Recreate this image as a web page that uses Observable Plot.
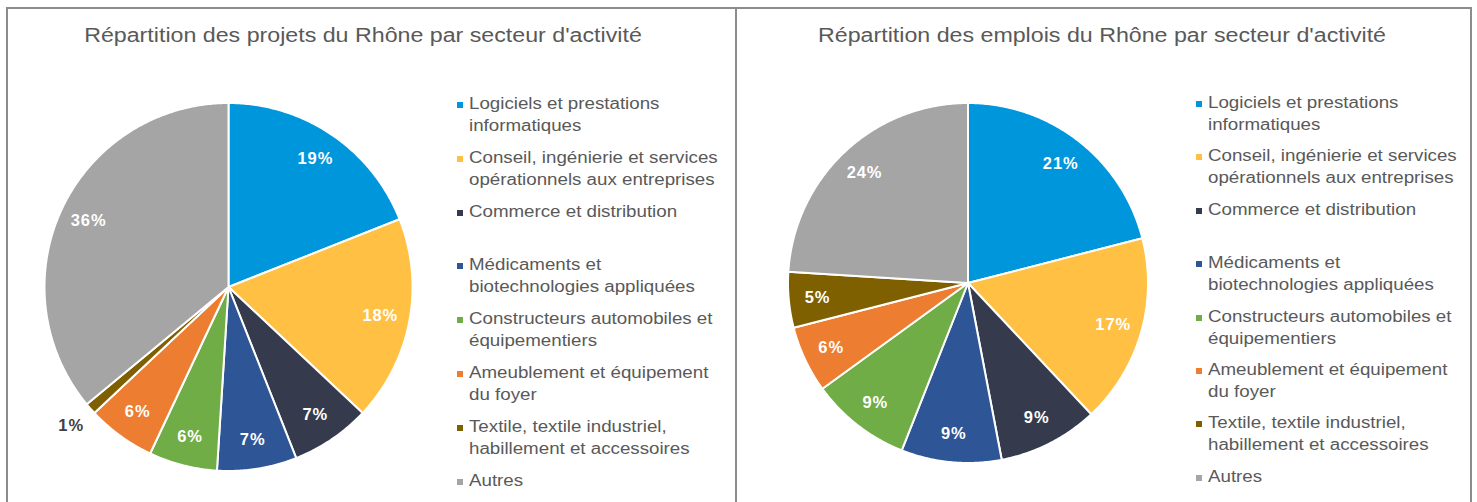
<!DOCTYPE html>
<html>
<head>
<meta charset="utf-8">
<script src="https://cdn.jsdelivr.net/npm/d3@7"></script>
<script src="https://cdn.jsdelivr.net/npm/@observablehq/plot@0.6"></script>
<style>
  body { margin: 0; background: #fff; font-family: "Liberation Sans", Arial, sans-serif; }
  #wrap { position: relative; width: 1477px; height: 502px; overflow: hidden; background: #fff; }
  #frame { position: absolute; left: 6px; top: 7px; width: 1462px; height: 520px; border: 2px solid #8c8c8c; }
  #divider { position: absolute; left: 735px; top: 7px; width: 2px; height: 510px; background: #8c8c8c; }
  .panel { position: absolute; top: 0; height: 502px; }
  .panel svg { position: absolute; left: 0; top: 0; }
  .panel svg text { letter-spacing: 0.9px; }
  .title { position: absolute; top: 22px; font-size: 20px; color: #595959; text-align: center; line-height: 26px; white-space: nowrap; transform: scaleX(1.16); transform-origin: center; }
  .legend-item { position: absolute; font-size: 16px; line-height: 22px; color: #595959; white-space: pre-line; }
  .legend-item .txt { display: inline-block; transform: scaleX(1.17); transform-origin: left top; }
  .legend-item .sw { position: absolute; width: 6px; height: 6px; left: -12px; top: 9px; }
</style>
</head>
<body>
<div id="wrap">
  <div id="frame"></div>
  <div id="divider"></div>
  <div class="panel" id="left" style="left:0px;width:736px;"></div>
  <div class="panel" id="right" style="left:736px;width:741px;"></div>
</div>
<script>
// ---- Data ----
const categories = [
  "Logiciels et prestations\ninformatiques",
  "Conseil, ingénierie et services\nopérationnels aux entreprises",
  "Commerce et distribution",
  "Médicaments et\nbiotechnologies appliquées",
  "Constructeurs automobiles et\néquipementiers",
  "Ameublement et équipement\ndu foyer",
  "Textile, textile industriel,\nhabillement et accessoires",
  "Autres"
];
const colors = ["#0096dc", "#ffc044", "#353b4c", "#2e5596", "#70ad47", "#ed7d31", "#7f6000", "#a5a5a5"];
const projets = [19, 18, 7, 7, 6, 6, 1, 36];
const emplois = [21, 17, 9, 9, 9, 6, 5, 24];
const titles = [
  "Répartition des projets du Rhône par secteur d'activité",
  "Répartition des emplois du Rhône par secteur d'activité"
];

function piePlot(values, cx, cy, R, w, h) {
  const arcs = d3.pie().sort(null).value(d => d)(values);
  const pts = [];
  const labels = [];
  arcs.forEach((a, i) => {
    const name = categories[i];
    pts.push({name, x: 0, y: 0});
    const n = Math.max(2, Math.ceil((a.endAngle - a.startAngle) / 0.01));
    for (let k = 0; k <= n; k++) {
      const t = a.startAngle + (a.endAngle - a.startAngle) * k / n;
      pts.push({name, x: Math.sin(t), y: Math.cos(t)});
    }
    pts.push({name, x: 0, y: 0});
    const mid = (a.startAngle + a.endAngle) / 2;
    const outside = values[i] <= 2;
    const f = outside ? 1.14 : 0.84;
    labels.push({x: f * Math.sin(mid), y: f * Math.cos(mid), text: values[i] + "%", color: outside ? "#404040" : "#ffffff"});
  });
  return Plot.plot({
    width: w, height: h, margin: 0,
    x: {domain: [-1, 1], range: [cx - R, cx + R], axis: null},
    y: {domain: [-1, 1], range: [cy + R, cy - R], axis: null},
    color: {domain: categories, range: colors},
    style: {background: "transparent", fontFamily: "Liberation Sans, Arial, sans-serif"},
    marks: [
      Plot.line(pts, {x: "x", y: "y", z: "name", fill: "name", stroke: "white", strokeWidth: 2, strokeLinejoin: "round", curve: "linear"}),
      Plot.text(labels, {x: "x", y: "y", text: "text", fill: d => d.color, fontWeight: "bold", fontSize: 16.5})
    ]
  });
}

function buildPanel(el, title, values, cx, cy, R, titleWidth, legendX, legendY0, legendStep) {
  const w = parseFloat(el.style.width);
  el.appendChild(piePlot(values, cx, cy, R, w, 502));
  const t = document.createElement("div");
  t.className = "title";
  t.style.left = "0px";
  t.style.width = titleWidth + "px";
  t.textContent = title;
  el.appendChild(t);
  categories.forEach((c, i) => {
    const it = document.createElement("div");
    it.className = "legend-item";
    it.style.left = legendX + "px";
    it.style.top = (legendY0 + i * legendStep) + "px";
    const tx = document.createElement("span");
    tx.className = "txt";
    tx.textContent = c;
    it.appendChild(tx);
    const sw = document.createElement("span");
    sw.className = "sw";
    sw.style.background = colors[i];
    it.appendChild(sw);
    el.appendChild(it);
  });
}

buildPanel(document.getElementById("left"), titles[0], projets, 228, 286.5, 184, 726, 469, 93, 53.8);
buildPanel(document.getElementById("right"), titles[1], emplois, 231.5, 282.5, 180, 732, 472, 92, 53.4);
</script>
</body>
</html>
